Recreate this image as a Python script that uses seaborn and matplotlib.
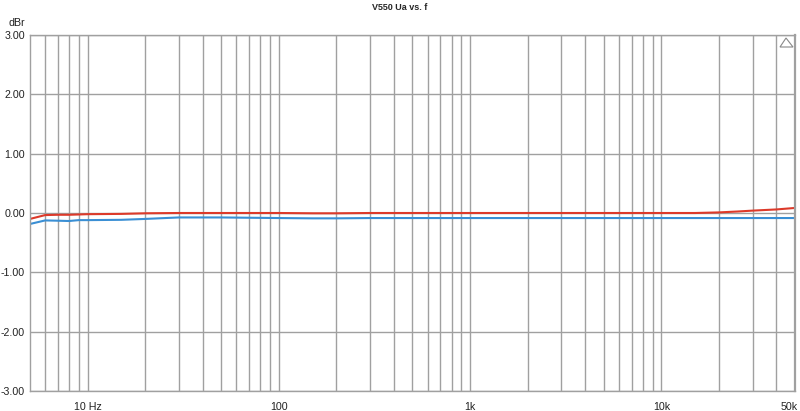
import matplotlib
matplotlib.use("Agg")
import matplotlib.pyplot as plt
import matplotlib.transforms as mtrans
import seaborn as sns
import pandas as pd
import numpy as np
from matplotlib.ticker import FixedLocator, NullFormatter

freq = [5, 6, 7, 8, 9, 10, 15, 20, 30, 50, 70, 100, 150, 200, 300, 500, 1000,
        2000, 5000, 10000, 15000, 20000, 25000, 30000, 40000, 50000]
red_db = [-0.10, -0.035, -0.03, -0.03, -0.025, -0.02, -0.015, -0.005, 0.0, 0.0, 0.0, 0.0,
          -0.005, -0.005, 0.0, 0.0, 0.0, 0.0, 0.0, 0.0, 0.0, 0.01, 0.025, 0.04, 0.06, 0.085]
blue_db = [-0.185, -0.125, -0.13, -0.135, -0.12, -0.12, -0.115, -0.10, -0.075, -0.075, -0.08, -0.085,
           -0.09, -0.09, -0.085, -0.085, -0.085, -0.085, -0.085, -0.085, -0.085, -0.085, -0.085,
           -0.085, -0.085, -0.085]
series_names = ["Ch1", "Ch2"]
y_ticks = [3, 2, 1, 0, -1, -2, -3]
y_labels = ["3.00", "2.00", "1.00", "0.00", "-1.00", "-2.00", "-3.00"]
x_ticks = [10, 100, 1000, 10000, 50000]
x_labels = ["10 Hz", "100", "1k", "10k", "50k"]
title = "V550 Ua vs. f"

df = pd.concat([
    pd.DataFrame({"f": freq, "dBr": red_db, "ch": series_names[0]}),
    pd.DataFrame({"f": freq, "dBr": blue_db, "ch": series_names[1]}),
])

sns.set_style("white")
plt.rcParams["font.family"] = ["Liberation Sans", "DejaVu Sans"]

fig = plt.figure(figsize=(8, 4.11), dpi=100)
ax = fig.add_axes([30/800, 20/411, 765/800, 356/411])

grid_c = "#a0a0a0"
minor = [m * 10**e for e in range(0, 5) for m in range(1, 10)]
minor = [v for v in minor if 5 < v < 50000]
for v in minor:
    ax.axvline(v, color=grid_c, lw=1.0, zorder=0)
for v in y_ticks:
    ax.axhline(v, color=grid_c, lw=1.0, zorder=0)

sns.lineplot(data=df, x="f", y="dBr", hue="ch", palette=["#dc3a2a", "#3a8fd4"],
             lw=1.5, ax=ax, legend=False)

ax.set_xscale("log")
ax.set_xlim(5, 50000)
ax.set_ylim(-3, 3)
ax.xaxis.set_major_locator(FixedLocator(x_ticks))
ax.set_xticklabels(x_labels)
ax.xaxis.set_minor_formatter(NullFormatter())
ax.xaxis.set_minor_locator(FixedLocator([]))
ax.set_yticks(y_ticks)
ax.set_yticklabels(y_labels)
ax.set_xlabel("")
ax.set_ylabel("")
ax.tick_params(axis="both", labelsize=7.7, colors="#222222", length=0)
ax.tick_params(axis="x", pad=8)
ax.tick_params(axis="y", pad=3.5)
last = ax.get_xticklabels()[-1]
last.set_horizontalalignment("right")
last.set_transform(last.get_transform() + mtrans.ScaledTranslation(3/100, 0, fig.dpi_scale_trans))
for s in ax.spines.values():
    s.set_color(grid_c)
    s.set_linewidth(1.0)
ax.spines["right"].set_linewidth(1.6)

fig.text(0.5, 1 - 8/411, title, ha="center", va="center", fontsize=6.5, fontweight="bold")
fig.text(17/800, 1 - 23/411, "dBr", ha="center", va="center", fontsize=7.7, color="#222222")

tri = plt.Polygon([[780/800, 1-47/411], [786/800, 1-38/411], [793/800, 1-47/411]], closed=True,
                  fill=False, edgecolor="#888888", lw=0.8, transform=fig.transFigure)
fig.patches.append(tri)

fig.savefig("out.png", dpi=100)
